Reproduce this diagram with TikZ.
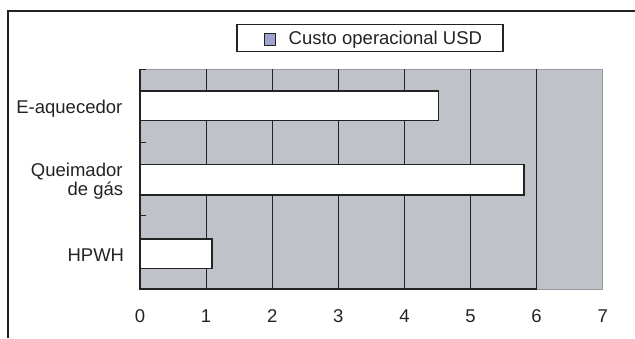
\documentclass[tikz,border=0pt]{standalone}
\usepackage{fontspec}
\setmainfont{Liberation Sans}
\definecolor{plotgray}{RGB}{192,194,202}
\definecolor{plotedge}{RGB}{150,152,158}
\definecolor{legblue}{RGB}{158,163,208}
\definecolor{ink}{RGB}{35,35,35}
\begin{document}
\begin{tikzpicture}[x=1pt,y=-1pt,
  txt/.style={inner sep=0pt,font=\fontsize{18.5}{18.5}\selectfont,text=ink},
  framel/.style={draw=ink,line width=1.3pt},
  gridl/.style={draw=ink,line width=0.9pt},
  barbox/.style={draw=ink,fill=white,line width=1.2pt}]
\useasboundingbox (0,0) rectangle (635,338);
% outer frame
\draw[framel] (8,338) -- (8,11) -- (635,11);
% legend
\draw[draw=ink,line width=1.1pt,fill=white] (237,24.5) rectangle (503,51.5);
\draw[draw=ink,line width=0.9pt,fill=legblue] (264,33.5) rectangle (275,45);
\node[txt,anchor=base west] (leg) at (288.5,44.5) {Custo operacional USD};
% plot area
\fill[plotgray] (140,69) rectangle (602.8,289);
\draw[plotedge,line width=1pt] (140,69) -- (602.8,69) -- (602.8,289) -- (536.7,289);
\foreach \v in {1,...,6}{
  \draw[gridl] ({140+66.1*\v},69) -- ({140+66.1*\v},289);
}
% bars
\draw[barbox] (140,91) rectangle (438.8,120.3);
\draw[barbox] (140,164.3) rectangle (524,195);
\draw[barbox] (140,239) rectangle (212,268.3);
% axes
\draw[gridl,line width=1.2pt] (140,69) -- (140,289) -- (536.7,289);
\foreach \y in {69,142.3,215.7,289}{
  \draw[gridl] (140,\y) -- (146,\y);
}
% axis labels
\foreach \v in {0,...,7}{
  \node[txt,anchor=base] (x\v) at ({140+66.1*\v},322.7) {\v};
}
\node[txt,anchor=base east] (c1) at (122.5,113.3) {E-aquecedor};
\node[txt,anchor=base east] (c2a) at (122.7,176.7) {Queimador};
\node[txt,anchor=base east] (c2b) at (123.3,195) {de gás};
\node[txt,anchor=base east] (c3) at (124.3,261.7) {HPWH};
\end{tikzpicture}
\end{document}
